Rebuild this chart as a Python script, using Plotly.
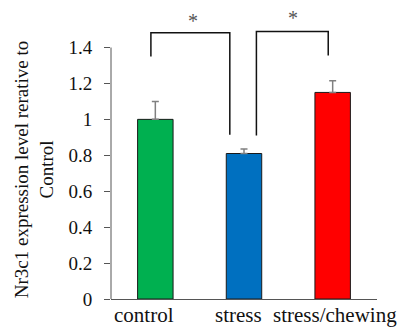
import plotly.graph_objects as go

categories = ["control", "stress", "stress/chewing"]
values = [1.0, 0.81, 1.15]
errors = [0.10, 0.025, 0.065]
colors = ["#00B050", "#0070C0", "#FF0000"]
y_ticks = [0, 0.2, 0.4, 0.6, 0.8, 1, 1.2, 1.4]
y_tick_labels = ["0", "0.2", "0.4", "0.6", "0.8", "1", "1.2", "1.4"]
# significance brackets: (left x, right x, top y, left bottom y, right bottom y, star x, star y)
brackets = [(-0.05, 0.84, 1.482, 1.35, 0.914, 0.43, 1.53),
            (1.14, 1.95, 1.489, 0.91, 1.355, 1.55, 1.55)]
label_offsets = [-0.127, -0.06, 0.03]

FONT = "Liberation Serif"

fig = go.Figure()
fig.add_trace(go.Bar(
    x=[0, 1, 2], y=values, width=0.4,
    marker=dict(color=colors, line=dict(color="#1a1a1a", width=1)),
    error_y=dict(type="data", array=errors, arrayminus=[0, 0, 0], symmetric=False,
                 color="#808080", thickness=1.5, width=3.5),
))

for (xl, xr, yt, ybl, ybr, sx, sy) in brackets:
    fig.add_shape(type="path",
                  path=f"M {xl},{ybl} L {xl},{yt} L {xr},{yt} L {xr},{ybr}",
                  xref="x", yref="y", line=dict(color="#111111", width=1.5))
    fig.add_annotation(x=sx, y=sy, xref="x", yref="y", text="*",
                       showarrow=False, yanchor="middle", yshift=3,
                       font=dict(family=FONT, size=20, color="#555555"))

for i, c in enumerate(categories):
    fig.add_annotation(x=i + label_offsets[i], y=-0.055, xref="x", yref="paper", text=c,
                       showarrow=False, yanchor="middle",
                       font=dict(family=FONT, size=21, color="#111111"))

fig.add_annotation(x=-0.289, y=0.443, xref="paper", yref="paper",
                   text="Nr3c1 expression level rerative to<br>Control",
                   textangle=-90, showarrow=False, xanchor="center", yanchor="middle",
                   font=dict(family=FONT, size=19, color="#111111"))

# y axis line only up to 1.4
fig.add_shape(type="line", xref="paper", yref="y", x0=0, x1=0, y0=0, y1=1.4,
              line=dict(color="#555555", width=1))

fig.update_layout(
    width=407, height=327,
    margin=dict(l=111, r=30, t=8, b=28),
    paper_bgcolor="white", plot_bgcolor="white",
    showlegend=False,
    xaxis=dict(range=[-0.5, 2.5], tickvals=[0, 1, 2], showticklabels=False,
               showline=True, linecolor="#555555", linewidth=1,
               ticks="", showgrid=False, zeroline=False),
    yaxis=dict(range=[0, 1.62], tickvals=y_ticks, ticktext=y_tick_labels,
               ticks="outside", ticklen=6, tickcolor="#555555",
               showline=False, showgrid=False, zeroline=False,
               ticklabelstandoff=8,
               tickfont=dict(family=FONT, size=19, color="#111111")),
)
fig.write_html("out.html", config={"displayModeBar": False},
               post_script="document.body.style.margin='0';document.body.style.overflow='hidden';")
